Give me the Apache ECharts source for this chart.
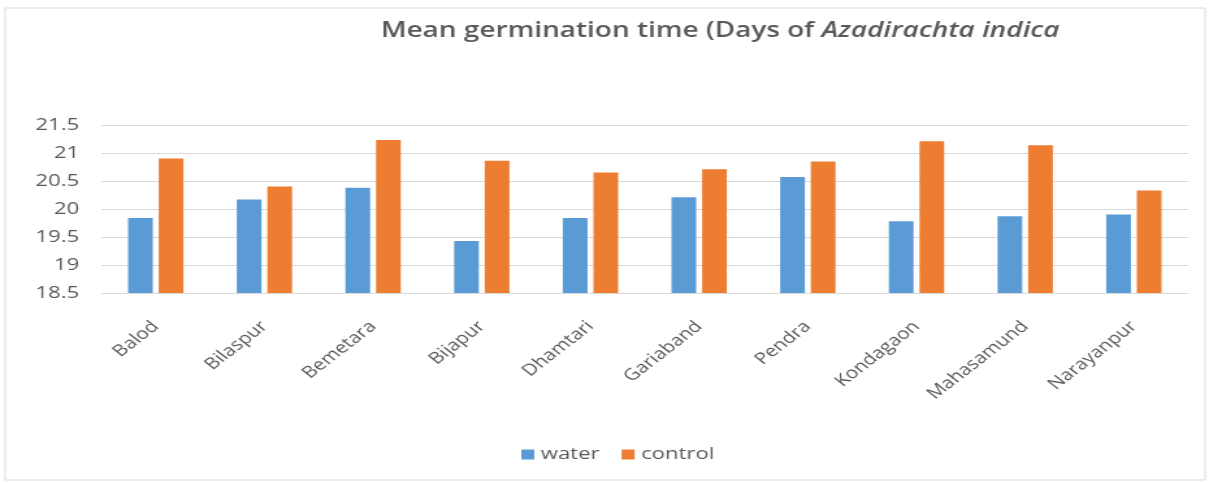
<!DOCTYPE html>
<html lang="en">
<head>
    <meta charset="UTF-8">
    <title>Mean germination time</title>
    <style>
        html, body {
            margin: 0;
            height: 100%;
            width: 100%;
            background: #fff;
            overflow: hidden;
        }
        /* the reference is a horizontally stretched picture, so draw narrow and stretch */
        .myEcharts {
            width: 932px;
            height: 483px;
            transform: scaleX(1.3);
            transform-origin: 0 0;
        }
    </style>
</head>
<body>
    <div id="main" class="myEcharts"></div>
    <script src="https://cdn.jsdelivr.net/npm/echarts@6/dist/echarts.min.js"></script>
    <script>
        var districts = ['Balod', 'Bilaspur', 'Bemetara', 'Bijapur', 'Dhamtari', 'Gariaband', 'Pendra', 'Kondagaon', 'Mahasamund', 'Narayanpur'];
        var water = [19.84, 20.17, 20.38, 19.43, 19.84, 20.21, 20.57, 19.78, 19.87, 19.9];
        var control = [20.9, 20.4, 21.23, 20.86, 20.65, 20.71, 20.85, 21.21, 21.14, 20.33];

        var myCharts = echarts.init(document.getElementById('main'));
        var txt = '#595959';
        var option = {
            animation: false,
            textStyle: { fontFamily: 'Open Sans' },
            title: {
                text: '{n|Mean germination time (Days of }{i|Azadirachta indica}',
                left: 549,
                textAlign: 'center',
                top: 15,
                textStyle: {
                    rich: {
                        n: { fontSize: 21.5, fontWeight: 600, color: txt, fontFamily: 'Open Sans' },
                        i: { fontSize: 21.5, fontWeight: 600, fontStyle: 'italic', color: txt, fontFamily: 'Open Sans' }
                    }
                }
            },
            graphic: [{
                type: 'rect',
                shape: { x: 4, y: 8, width: 923, height: 472 },
                style: { fill: 'none', stroke: '#d9d9d9', lineWidth: 1 },
                silent: true
            }],
            legend: {
                data: ['water', 'control'],
                bottom: 15,
                left: 396,
                itemWidth: 10,
                itemHeight: 10,
                itemGap: 17,
                icon: 'rect',
                textStyle: { fontSize: 17, color: txt, fontFamily: 'Open Sans' }
            },
            grid: {
                left: 78,
                right: 18,
                top: 125,
                bottom: 190
            },
            xAxis: {
                type: 'category',
                data: districts,
                axisLine: { show: false },
                axisTick: { show: false },
                axisLabel: {
                    rotate: 45,
                    margin: 31,
                    fontSize: 16,
                    color: txt,
                    fontFamily: 'Open Sans'
                }
            },
            yAxis: {
                type: 'value',
                min: 18.5,
                max: 21.5,
                interval: 0.5,
                axisLine: { show: false },
                axisTick: { show: false },
                axisLabel: { fontSize: 17, color: txt, margin: 17, fontFamily: 'Open Sans' },
                splitLine: { lineStyle: { color: '#d9d9d9', width: 1 } }
            },
            series: [{
                name: 'water',
                type: 'bar',
                data: water,
                barWidth: 19,
                barGap: '24%',
                itemStyle: { color: '#5b9bd5' }
            }, {
                name: 'control',
                type: 'bar',
                data: control,
                barWidth: 19,
                barGap: '24%',
                itemStyle: { color: '#ed7d31' }
            }]
        };
        myCharts.setOption(option);
    </script>
</body>
</html>
